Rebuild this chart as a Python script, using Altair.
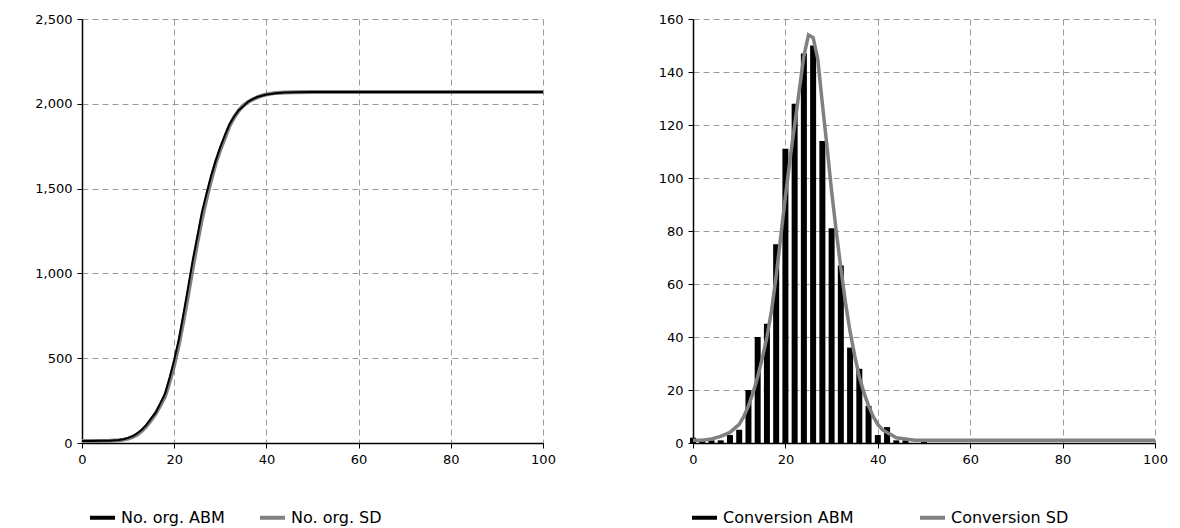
import altair as alt
import pandas as pd

# ---------------- data ----------------
t_left = [0, 2, 4, 6, 8, 9, 10, 11, 12, 13, 14, 15, 16, 17, 18, 19, 20, 21, 22, 23, 24,
          25, 26, 27, 28, 29, 30, 31, 32, 33, 34, 35, 36, 37, 38, 39, 40, 41, 42, 44,
          46, 50, 60, 70, 80, 90, 100]
org_sd = [12, 12, 12, 13, 16, 20, 26, 36, 50, 72, 100, 135, 175, 222, 275, 360, 460, 580,
          720, 870, 1030, 1180, 1320, 1440, 1550, 1650, 1730, 1800, 1870, 1920, 1960, 1990,
          2010, 2025, 2038, 2048, 2055, 2060, 2063, 2066, 2068, 2070, 2070, 2070, 2070, 2070, 2070]
org_abm = [12, 12, 13, 14, 18, 22, 30, 40, 58, 80, 108, 145, 180, 235, 290, 385, 490, 610,
           760, 915, 1075, 1215, 1360, 1470, 1575, 1665, 1745, 1815, 1880, 1925, 1962, 1985,
           2012, 2028, 2040, 2047, 2055, 2058, 2062, 2066, 2068, 2070, 2070, 2070, 2070, 2070, 2070]

t_conv_abm = [0, 2, 4, 6, 8, 10, 12, 14, 16, 18, 20, 22, 24, 26, 28, 30, 32, 34, 36, 38,
              40, 42, 44, 46, 48, 50]
conv_abm = [2, 1, 1, 1, 3, 5, 20, 40, 45, 75, 111, 128, 147, 150, 114, 81, 67, 36, 28, 14,
            3, 6, 1, 1, 0, 1]

t_conv_sd = [0, 2, 4, 6, 8, 10, 11, 12, 13, 14, 15, 16, 17, 18, 19, 20, 21, 22, 23, 24, 25,
             26, 27, 28, 29, 30, 31, 32, 33, 34, 35, 36, 37, 38, 39, 40, 41, 42, 43, 44, 46,
             48, 50, 60, 70, 80, 90, 100]
conv_sd = [1, 1, 1.5, 2.5, 4, 7, 10, 14, 19, 25, 32, 40, 50, 63, 78, 93, 107, 120, 133, 146,
           154, 153, 145, 128, 112, 95, 80, 66, 53, 42, 33, 25, 19, 14, 10, 7, 5, 4, 3, 2,
           1.5, 1, 1, 1, 1, 1, 1, 1]

x_ticks = [0, 20, 40, 60, 80, 100]
y_ticks_left = [0, 500, 1000, 1500, 2000, 2500]
y_ticks_right = [0, 20, 40, 60, 80, 100, 120, 140, 160]

left_series = ["No. org. ABM", "No. org. SD"]
right_series = ["Conversion ABM", "Conversion SD"]

FONT = "DejaVu Sans"
BLACK = "#000000"
GREY = "#808080"

df_left = pd.concat([
    pd.DataFrame({"t": t_left, "v": org_abm, "s": left_series[0]}),
    pd.DataFrame({"t": t_left, "v": org_sd, "s": left_series[1]}),
])
df_abm = pd.DataFrame({"t": t_conv_abm, "v": conv_abm, "s": right_series[0]})
df_sd = pd.DataFrame({"t": t_conv_sd, "v": conv_sd, "s": right_series[1]})

W, H = 461, 424


def xaxis():
    return alt.X("t:Q", scale=alt.Scale(domain=[0, 100], nice=False),
                 axis=alt.Axis(values=x_ticks, title=None, labelPadding=5))


def legend(col_pad, lx):
    return alt.Legend(orient="none", legendX=lx, legendY=484, direction="horizontal",
                      title=None, symbolType="stroke", symbolStrokeWidth=4,
                      symbolSize=625, labelFontSize=16, labelFont=FONT, padding=0,
                      columnPadding=col_pad, labelLimit=300, labelColor=BLACK)


color_left = alt.Color("s:N", scale=alt.Scale(domain=left_series, range=[BLACK, GREY]),
                       legend=legend(27, 6))
yl = alt.Y("v:Q", scale=alt.Scale(domain=[0, 2500], nice=False),
           axis=alt.Axis(values=y_ticks_left, format=",.0f", title=None, labelPadding=5))

base_left = alt.Chart(df_left)
left = alt.layer(
    base_left.transform_filter(alt.datum.s == left_series[1]).mark_line(strokeWidth=4)
    .encode(x=xaxis(), y=yl, color=color_left),
    base_left.transform_filter(alt.datum.s == left_series[0]).mark_line(strokeWidth=2)
    .encode(x=xaxis(), y=yl, color=color_left),
).properties(width=W, height=H)

color_right = alt.Color("s:N", scale=alt.Scale(domain=right_series, range=[BLACK, GREY]),
                        legend=legend(58, -3))
yr = alt.Y("v:Q", scale=alt.Scale(domain=[0, 160], nice=False),
           axis=alt.Axis(values=y_ticks_right, title=None, labelPadding=5))

right = alt.layer(
    alt.Chart(df_abm).mark_rule(strokeWidth=6).encode(
        x=xaxis(), y=yr, y2=alt.datum(0), color=color_right),
    alt.Chart(df_sd).mark_line(strokeWidth=3.5).encode(
        x=xaxis(), y=yr, color=color_right),
).properties(width=W + 1, height=H)

chart = alt.hconcat(left, right, spacing=102).resolve_scale(
    color="independent").resolve_legend(color="independent").properties(
    padding={"left": 26, "top": 5, "right": 0, "bottom": 0}
).configure_view(stroke=None).configure_axis(
    domainColor=BLACK, domainWidth=1.5, tickColor=BLACK, tickSize=5, tickWidth=1,
    gridColor="#9a9a9a", gridDash=[6, 4], gridWidth=1,
    labelFont=FONT, labelFontSize=13, labelColor=BLACK,
).configure_axisX(labelFlush=False)

chart.save("out.html", embed_options={"renderer": "svg", "actions": False})
